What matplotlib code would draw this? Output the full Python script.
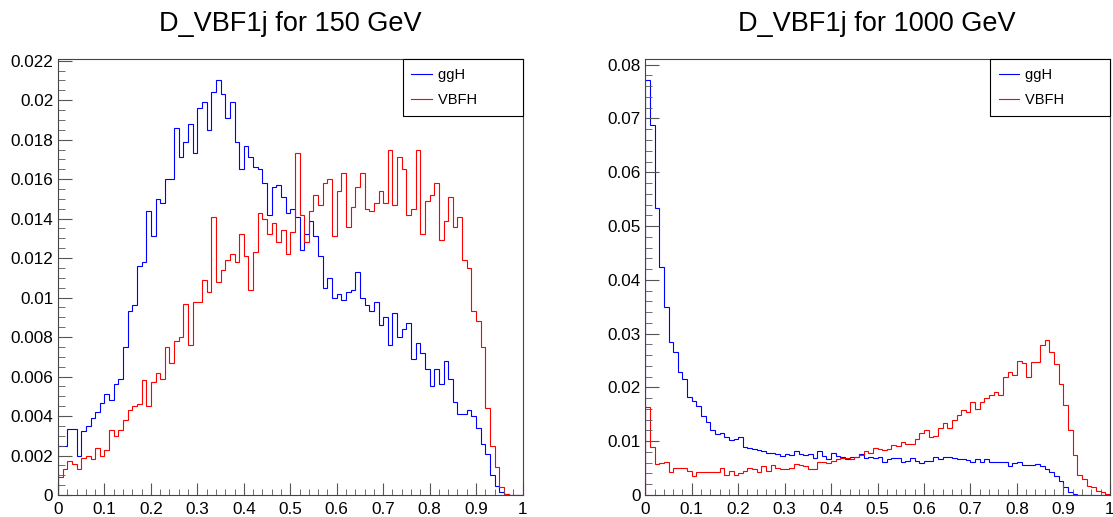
import numpy as np
import matplotlib
matplotlib.use("Agg")
from matplotlib import pyplot as plt
from matplotlib.ticker import MultipleLocator, FuncFormatter

plt.rcParams['font.family'] = ['Liberation Sans', 'DejaVu Sans']

edges = np.linspace(0, 1, 101)

# D_VBF1j, 150 GeV (100 bins, normalised)
ggh_150 = [
    0.00248, 0.00248, 0.00333, 0.00333, 0.0020, 0.00324, 0.0035, 0.0039, 0.0042, 0.00464,
    0.0051, 0.0048, 0.0056, 0.0059, 0.0075, 0.0093, 0.0096, 0.0116, 0.0118, 0.0144,
    0.0131, 0.0150, 0.0148, 0.0160, 0.0160, 0.0186, 0.0171, 0.0179, 0.0188, 0.0173,
    0.0196, 0.0199, 0.0185, 0.0204, 0.0210, 0.0203, 0.0191, 0.0199, 0.0179, 0.0165,
    0.0177, 0.0171, 0.0166, 0.0165, 0.0158, 0.0142, 0.0156, 0.0157, 0.0151, 0.0143,
    0.0145, 0.0141, 0.0124, 0.0132, 0.0139, 0.0131, 0.0121, 0.0105, 0.0110, 0.0100,
    0.0102, 0.0099, 0.0103, 0.0104, 0.0113, 0.0100, 0.0096, 0.0093, 0.0098, 0.0086,
    0.0090, 0.0076, 0.0092, 0.0080, 0.0084, 0.0087, 0.0069, 0.0077, 0.0072, 0.0064,
    0.0055, 0.0064, 0.0056, 0.0068, 0.0059, 0.0047, 0.0041, 0.0041, 0.0043, 0.0040,
    0.0034, 0.0026, 0.0021, 0.0010, 0.00046, 0.00014, 0.00003, 0, 0, 0,
]
vbf_150 = [
    0.00093, 0.0013, 0.0017, 0.00155, 0.0013, 0.00186, 0.0020, 0.0018, 0.0024, 0.0020,
    0.0023, 0.0033, 0.0030, 0.0033, 0.0038, 0.0043, 0.0045, 0.0046, 0.0058, 0.0045,
    0.0057, 0.0062, 0.0059, 0.0075, 0.0067, 0.0078, 0.0080, 0.0097, 0.0076, 0.0098,
    0.0098, 0.0109, 0.0103, 0.0141, 0.0108, 0.0114, 0.0119, 0.0122, 0.0118, 0.0132,
    0.0121, 0.0104, 0.0123, 0.0143, 0.0140, 0.0132, 0.0138, 0.0128, 0.0134, 0.0122,
    0.0133, 0.0173, 0.0142, 0.0128, 0.0144, 0.0152, 0.0147, 0.0158, 0.0160, 0.0131,
    0.0154, 0.0163, 0.0136, 0.0146, 0.0156, 0.0163, 0.0145, 0.0144, 0.0148, 0.0154,
    0.0148, 0.0175, 0.0147, 0.0171, 0.0165, 0.0142, 0.0145, 0.0175, 0.0132, 0.0149,
    0.0152, 0.0158, 0.0129, 0.0139, 0.0151, 0.0136, 0.0141, 0.0119, 0.0115, 0.0093,
    0.0088, 0.0075, 0.0044, 0.0025, 0.0014, 0.0004, 0.00005, 0, 0, 0,
]

# D_VBF1j, 1000 GeV
ggh_1000 = [
    0.0771, 0.0687, 0.0534, 0.0423, 0.0350, 0.0285, 0.0266, 0.0228, 0.0215, 0.0183,
    0.0175, 0.0166, 0.0146, 0.0136, 0.0121, 0.0113, 0.0116, 0.0107, 0.0102, 0.0104,
    0.0107, 0.0090, 0.0087, 0.0085, 0.0084, 0.0082, 0.0079, 0.0079, 0.0077, 0.0072,
    0.0077, 0.0074, 0.0081, 0.0077, 0.0074, 0.0077, 0.0068, 0.0081, 0.0072, 0.0066,
    0.0079, 0.0072, 0.0070, 0.0067, 0.0070, 0.0071, 0.0076, 0.0068, 0.0071, 0.0068,
    0.0070, 0.0062, 0.0067, 0.0068, 0.0069, 0.0061, 0.0063, 0.0068, 0.0064, 0.0059,
    0.0063, 0.0063, 0.0071, 0.0067, 0.0071, 0.0070, 0.0068, 0.0067, 0.0066, 0.0065,
    0.0062, 0.0066, 0.0062, 0.0066, 0.0062, 0.0062, 0.0061, 0.0061, 0.0054, 0.0059,
    0.0062, 0.0056, 0.0056, 0.0056, 0.0057, 0.0053, 0.0048, 0.0042, 0.0035, 0.0026,
    0.0014, 0.0006, 0.0001, 0, 0, 0, 0, 0, 0, 0,
]
vbf_1000 = [
    0.0163, 0.0089, 0.0057, 0.0059, 0.0061, 0.0042, 0.0050, 0.0050, 0.0050, 0.0045,
    0.0035, 0.0043, 0.0043, 0.0042, 0.0042, 0.0043, 0.0050, 0.0037, 0.0045, 0.0038,
    0.0040, 0.0045, 0.0051, 0.0048, 0.0043, 0.0053, 0.0045, 0.0056, 0.0051, 0.0048,
    0.0048, 0.0050, 0.0058, 0.0055, 0.0054, 0.0048, 0.0048, 0.0062, 0.0061, 0.0059,
    0.0064, 0.0067, 0.0068, 0.0069, 0.0067, 0.0070, 0.0074, 0.0081, 0.0079, 0.0087,
    0.0085, 0.0084, 0.0086, 0.0093, 0.0092, 0.0099, 0.0094, 0.0094, 0.0105, 0.0115,
    0.0121, 0.0108, 0.0110, 0.0124, 0.0133, 0.0124, 0.0139, 0.0149, 0.0158, 0.0155,
    0.0173, 0.0160, 0.0172, 0.0180, 0.0186, 0.0191, 0.0186, 0.0220, 0.0229, 0.0223,
    0.0250, 0.0245, 0.0220, 0.0247, 0.0247, 0.0279, 0.0289, 0.0266, 0.0244, 0.0206,
    0.0167, 0.0120, 0.0074, 0.0037, 0.0029, 0.0017, 0.0014, 0.0008, 0.0006, 0.0001,
]

titles = ["D_VBF1j for 150 GeV", "D_VBF1j for 1000 GeV"]
labels = ["ggH", "VBFH"]

W, H = 1113, 517
fig = plt.figure(figsize=(W / 100, H / 100), dpi=100)


def fmt(v, pos):
    return "%g" % round(v, 6)


def draw(left_px, ggh, vbf, ymax, ymajor, yminor, title):
    ax = fig.add_axes([left_px / W, 22 / H, 464.5 / W, 435.7 / H])
    ax.stairs(ggh, edges, color='#0000ff', lw=0.8, label=labels[0])
    ax.stairs(vbf, edges, color='#ff0000', lw=0.8, label=labels[1])
    ax.set_xlim(0, 1)
    ax.set_ylim(0, ymax)
    ax.xaxis.set_major_locator(MultipleLocator(0.1))
    ax.xaxis.set_minor_locator(MultipleLocator(0.02))
    ax.yaxis.set_major_locator(MultipleLocator(ymajor))
    ax.yaxis.set_minor_locator(MultipleLocator(yminor))
    ax.xaxis.set_major_formatter(FuncFormatter(fmt))
    ax.yaxis.set_major_formatter(FuncFormatter(fmt))
    ax.tick_params(which='both', direction='in', labelsize=12.3, colors='#555555',
                   labelcolor='black')
    ax.tick_params(axis='x', which='major', length=9, pad=5)
    ax.tick_params(axis='x', which='minor', length=4.5)
    ax.tick_params(axis='y', which='major', length=10, pad=3.5)
    ax.tick_params(axis='y', which='minor', length=5)
    for s in ax.spines.values():
        s.set_color('#444444')
        s.set_linewidth(0.8)
    leg = ax.legend(loc='upper right', bbox_to_anchor=(1, 1), borderaxespad=0,
                    fancybox=False, edgecolor='black', framealpha=1, fontsize=10.5,
                    handlelength=1.4, handletextpad=0.4, borderpad=0.6,
                    labelspacing=0.75)
    leg.get_frame().set_linewidth(0.8)
    for t in leg.get_texts():
        t.set_text(t.get_text() + "         ")
    fig.text((left_px + 232) / W, 1 - 24 / H, title, ha='center', va='center',
             fontsize=19.5)
    return ax


draw(58, ggh_150, vbf_150, 0.02207, 0.002, 0.0005, titles[0])
draw(645.3, ggh_1000, vbf_1000, 0.0810, 0.01, 0.002, titles[1])

fig.savefig("out.png", dpi=100)
